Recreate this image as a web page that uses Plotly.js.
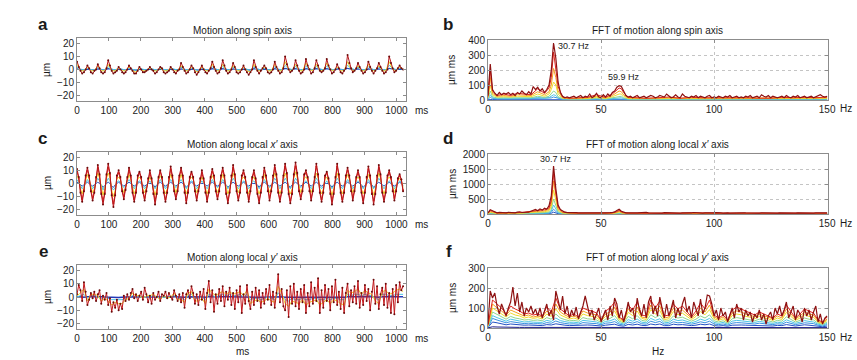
<!DOCTYPE html>
<html><head><meta charset="utf-8">
<script src="https://cdn.plot.ly/plotly-3.0.1.min.js"></script>
<style>html,body{margin:0;padding:0;background:#fff}#chart{width:857px;height:360px}</style>
</head><body><div id="chart"></div>
<script>
// ---------------- data ----------------
const sampleStepMs = 5.43;               // time between samples (full resolution)
const timeTicks = [0,100,200,300,400,500,600,700,800,900,1000];
const timeTickText = ["0","100","200","300","400","500","600","700","800","900","1000"];
const freqTicks = [0,50,100,150];
const freqTickText = ["0","50","100","150"];
const motionTicks = [-20,-10,0,10,20];
const fftSpinTicks = [0,100,200,300,400];
const fftXTicks = [0,500,1000,1500,2000];
const fftYTicks = [0,100,200,300];

// panel a : motion along spin axis (full res dark red, half res others)
const spinDarkRed = [
6,2,-1,-3,-2,0, 3,1,-2,-3,-1,0, 4,1,-2,-3,-2,1, 7,3,-1,-3,-2,-1, 2,0,-2,-3,-2,0,
3,1,-1,-3,-3,-1, 2,0,-2,-2,-1,0, 2,0,-1,-3,-2,0, 2,1,-2,-3,-2,-1, 2,0,-2,-3,-1,0,
5,2,-1,-3,-2,0, 3,1,-2,-4,-2,0, 3,0,-2,-3,-1,1, 6,2,-1,-3,-2,1, 7,3,-1,-3,-2,0,
5,2,-2,-3,-2,0, 3,0,-2,-4,-2,0, 7,2,-1,-3,-1,1, 3,1,-2,-3,-2,0, 6,2,-1,-3,-2,1,
10,4,0,-2,-1,1, 7,3,-1,-3,-2,0, 8,3,0,-3,-2,1, 7,3,-1,-2,-1,1, 8,3,0,-3,-2,0,
4,1,-2,-3,-1,1, 11,5,1,-2,-1,1, 5,2,-1,-3,-2,0, 6,2,-1,-3,-1,1, 5,2,-1,-3,-2,0,
10,5,1,-2,-1,1, 3,1,0];
const spinYellow = [
4,-1,-1, 2,-1,-1, 3,-1,-1, 4,-1,-1, 1,-1,-1, 2,-1,-2, 1,-1,-1, 1,-1,-1, 1,-1,-1, 1,-1,-1,
3,-1,-1, 2,-1,-2, 2,-1,-1, 4,-1,-1, 4,-1,-1, 3,-1,-1, 2,-1,-2, 4,-1,-1, 2,-1,-1, 4,-1,-1,
6,0,-1, 4,-1,-1, 5,0,-1, 4,-1,-1, 5,0,-1, 2,-1,-1, 6,0,-1, 3,-1,-1, 4,-1,-1, 3,-1,-1,
6,0,-1, 2,0];
const spinCyan = [
2,0.3,-0.3, 1,0,-0.5, 1.5,0,-0.5, 2,0.3,-0.3, 1,0,-0.5, 1,0,-0.6, 0.8,0,-0.4, 1,0,-0.5, 0.8,0,-0.5, 1,0,-0.4,
1.8,0.2,-0.4, 1,0,-0.6, 1.2,0,-0.4, 2,0.3,-0.3, 2.2,0.3,-0.4, 1.8,0.2,-0.4, 1,0,-0.6, 2,0.3,-0.3, 1,0,-0.5, 2,0.3,-0.3,
3,0.6,0, 2.2,0.3,-0.4, 2.4,0.5,-0.2, 2.2,0.4,-0.2, 2.4,0.5,-0.3, 1.2,0,-0.4, 3.2,0.8,0, 1.8,0.2,-0.4, 2,0.3,-0.3, 1.8,0.2,-0.4,
3.2,0.8,0, 1,0.2];
const spinBlue = [
0.5,0,-0.5, 0.3,0,-0.4, 0.4,-0.2,-0.5, 0.6,0,-0.5, 0.2,-0.3,-0.4, 0.3,0,-0.5, 0.2,-0.2,-0.3, 0.2,-0.1,-0.4, 0.2,-0.2,-0.4, 0.2,-0.1,-0.3,
0.5,0,-0.4, 0.3,-0.2,-0.5, 0.3,-0.1,-0.4, 0.6,0,-0.4, 0.6,0,-0.4, 0.5,-0.1,-0.4, 0.3,-0.2,-0.5, 0.6,0,-0.3, 0.3,-0.1,-0.4, 0.6,0,-0.4,
0.8,0.2,-0.2, 0.6,0,-0.4, 0.7,0.1,-0.3, 0.6,0,-0.3, 0.7,0.1,-0.4, 0.4,-0.1,-0.3, 0.9,0.2,-0.2, 0.5,0,-0.4, 0.5,0,-0.3, 0.5,0,-0.4,
0.9,0.2,-0.2, 0.3,0];

// panel c : motion along local x' axis
const xDarkRed = [
11,5,-7,-14,-6,6, 12,6,-6,-13,-7,5, 14,7,-8,-16,-8,7, 15,8,-9,-18,-9,6, 10,5,-6,-12,-5,5,
12,6,-7,-14,-7,6, 9,5,-7,-13,-6,4, 10,4,-8,-16,-8,5, 10,5,-7,-14,-7,5, 13,6,-6,-12,-6,6,
12,6,-7,-15,-7,5, 9,5,-6,-13,-6,4, 10,4,-7,-14,-7,5, 11,6,-6,-12,-6,6, 12,6,-8,-15,-7,6,
14,7,-6,-13,-7,6, 10,5,-7,-14,-6,5, 10,4,-8,-15,-7,5, 12,6,-6,-13,-6,6, 14,7,-7,-14,-7,6,
15,8,-8,-15,-8,7, 16,8,-6,-12,-6,7, 10,5,-6,-13,-6,5, 15,7,-7,-14,-7,6, 9,4,-8,-16,-8,5,
15,7,-7,-14,-7,6, 12,6,-6,-13,-6,5, 10,5,-7,-15,-7,5, 13,6,-8,-16,-8,6, 14,7,-7,-14,-7,6,
10,5,-6,-13,-6,4, 7,3,-6];
const xRed = [
9,4,-6,-12,-5,5, 10,5,-5,-11,-6,4, 12,6,-7,-13,-7,6, 12,7,-8,-15,-8,5, 8,4,-5,-10,-4,4,
10,5,-6,-12,-6,5, 8,4,-6,-11,-5,3, 8,3,-7,-13,-7,4, 9,4,-6,-12,-6,4, 11,5,-5,-10,-5,5,
10,5,-6,-13,-6,4, 8,4,-5,-11,-5,3, 8,3,-6,-12,-6,4, 9,5,-5,-10,-5,5, 10,5,-7,-13,-6,5,
12,6,-5,-11,-6,5, 8,4,-6,-12,-5,4, 8,3,-7,-13,-6,4, 10,5,-5,-11,-5,5, 12,6,-6,-12,-6,5,
13,7,-7,-13,-7,6, 13,7,-5,-10,-5,6, 8,4,-5,-11,-5,4, 13,6,-6,-12,-6,5, 8,3,-7,-13,-7,4,
13,6,-6,-12,-6,5, 10,5,-5,-11,-5,4, 8,4,-6,-13,-6,4, 11,5,-7,-13,-7,5, 12,6,-6,-12,-6,5,
8,4,-5,-11,-5,3, 6,3,-5];
const xYellow = [
6,3,-4,-8,-3,3, 7,3,-3,-7,-4,3, 8,4,-4,-9,-4,4, 8,4,-5,-10,-5,3, 5,3,-3,-7,-3,3,
7,3,-4,-8,-4,3, 5,3,-4,-7,-3,2, 5,2,-4,-9,-4,3, 6,3,-4,-8,-4,3, 7,3,-3,-7,-3,3,
7,3,-4,-8,-4,3, 5,3,-3,-7,-3,2, 5,2,-4,-8,-4,3, 6,3,-3,-7,-3,3, 7,3,-4,-8,-4,3,
8,4,-3,-7,-4,3, 5,3,-4,-8,-3,3, 5,2,-4,-8,-4,3, 7,3,-3,-7,-3,3, 8,4,-4,-8,-4,3,
8,4,-4,-8,-4,4, 9,4,-3,-7,-3,4, 5,3,-3,-7,-3,3, 8,4,-4,-8,-4,3, 5,2,-4,-9,-4,3,
8,4,-4,-8,-4,3, 7,3,-3,-7,-3,3, 5,3,-4,-8,-4,3, 7,3,-4,-9,-4,3, 8,4,-4,-8,-4,3,
5,3,-3,-7,-3,2, 4,2,-3];
const xCyan = [
3,1,-2,-4,-2,1, 3,1,-2,-4,-2,1, 4,2,-2,-5,-2,1, 4,2,-3,-5,-3,1, 2,1,-2,-3,-2,1,
3,1,-2,-4,-2,1, 2,1,-2,-4,-2,0, 2,0,-2,-4,-2,1, 3,1,-2,-4,-2,1, 3,1,-2,-3,-2,1,
3,1,-2,-4,-2,1, 2,1,-2,-4,-2,0, 2,0,-2,-4,-2,1, 3,1,-2,-3,-2,1, 3,1,-2,-4,-2,1,
4,2,-2,-4,-2,1, 2,1,-2,-4,-2,1, 2,0,-2,-4,-2,1, 3,1,-2,-3,-2,1, 4,2,-2,-4,-2,1,
4,2,-2,-4,-2,1, 4,2,-2,-3,-2,1, 2,1,-2,-4,-2,1, 4,2,-2,-4,-2,1, 2,0,-2,-4,-2,1,
4,2,-2,-4,-2,1, 3,1,-2,-4,-2,1, 2,1,-2,-4,-2,1, 3,1,-2,-4,-2,1, 4,2,-2,-4,-2,1,
2,1,-2,-4,-2,0, 2,1,-2];
const xBlue = [
1,0,-1,-2,-1,0, 1,0,-1,-2,-1,0, 1,0,-1,-3,-1,0, 1,0,-2,-3,-1,0, 1,0,-1,-2,-1,0,
1,0,-1,-2,-1,0, 1,0,-1,-2,-1,0, 0,0,-1,-3,-1,0, 1,0,-1,-2,-1,0, 1,0,-1,-2,-1,0,
1,0,-1,-3,-1,0, 1,0,-1,-2,-1,0, 0,0,-1,-2,-1,0, 1,0,-1,-2,-1,0, 1,0,-1,-3,-1,0,
1,0,-1,-2,-1,0, 1,0,-1,-2,-1,0, 0,0,-1,-3,-1,0, 1,0,-1,-2,-1,0, 1,0,-1,-2,-1,0,
1,0,-2,-3,-1,0, 1,0,-1,-2,-1,0, 1,0,-1,-2,-1,0, 1,0,-1,-2,-1,0, 0,0,-1,-3,-1,0,
1,0,-1,-2,-1,0, 1,0,-1,-2,-1,0, 1,0,-1,-3,-1,0, 1,0,-1,-3,-1,0, 1,0,-1,-2,-1,0,
1,0,-1,-2,-1,0, 1,0,-1];

// panel e : motion along local y' axis
const yDarkRed = [
2,9,5,-3,11,4,-6,-2,3,-1, 4,-3,2,5,-5,1,-2,3,-6,-1, -11,-4,-8,-2,-10,-5,-9,1,-3,2,
-2,3,6,-1,2,-3,1,4,-2,7, 2,-4,1,-5,3,-2,0,4,-3,2, 1,4,-1,3,0,-2,5,1,-3,2,
-4,3,-8,2,5,-1,8,3,-5,2, -6,4,-2,6,-9,3,12,-4,5,-11, 2,-5,6,-3,8,-7,4,-2,7,-6,
3,-9,5,-4,8,-12,2,-5,9,-3, -9,4,-6,7,-3,5,-8,3,-5,6, -2,9,-6,4,-8,3,17,-4,6,-7,
-10,5,-15,8,-5,10,-7,4,-9,6, -4,9,-12,3,-7,11,-5,7,-3,14, -12,5,-8,9,-3,6,-10,8,-4,13,
-6,4,-9,7,-12,3,10,-7,5,-4, 8,-5,12,-8,3,-6,9,-3,6,-10, 4,13,-5,8,-9,2,7,-6,10,-8,
3,-12,6,-13,9,-4,11,5,8];
const yYellow = [
1,3,6,-3,2, 2,1,-3,-1,-3, -6,-4,-5,-5,-2, -1,3,1,1,-1, 1,1,2,0,-2, 1,-1,0,3,-2, -2,-4,3,4,-3,
-3,-1,-5,6,3, 1,3,4,2,4, 2,3,4,1,5, -5,-3,-2,-4,-3, -1,-3,-4,8,3, -5,-7,-3,-4,-5, -2,-6,-4,-3,-2,
-6,-4,-2,-5,-2, -3,-5,-6,5,3, 4,6,2,5,3, 2,-3,-5,4,5, 2,3,5,6,4];
const yCyan = [
0,1,2,-1,1, 1,0,-1,0,-1, -2,-2,-2,-2,-1, 0,1,0,0,0, 0,0,1,0,-1, 0,0,0,1,-1, -1,-2,1,2,-1,
-1,0,-2,2,1, 0,1,2,1,2, 1,1,2,0,2, -2,-1,-1,-2,-1, 0,-1,-2,3,1, -2,-3,-1,-2,-2, -1,-2,-2,-1,-1,
-2,-2,-1,-2,-1, -1,-2,-2,2,1, 2,2,1,2,1, 1,-1,-2,2,2, 1,1,2,2,2];
const yBlue = [
0.3,0,-0.2,0.1,0.2, 0,-0.1,0.2,0,-0.2, -0.3,-0.2,-0.3,-0.2,0, 0,0.2,0,0.1,0, 0,0.1,0,0,-0.1, 0,0,0.1,0.2,-0.1, -0.1,-0.2,0.1,0.2,-0.1,
-0.1,0,-0.2,0.3,0.1, 0,0.1,0.2,0.1,0.2, 0.1,0.1,0.2,0,0.2, -0.2,-0.1,-0.1,-0.2,-0.1, 0,-0.1,-0.2,0.3,0.1, -0.2,-0.3,-0.1,-0.2,-0.2, -0.1,-0.2,-0.2,-0.1,-0.1,
-0.2,-0.2,-0.1,-0.2,-0.1, -0.1,-0.2,-0.2,0.2,0.1, 0.2,0.2,0.1,0.2,0.1, 0.1,-0.1,-0.2,0.2,0.2, 0.1,0.1,0.2,0.2,0.2];

// FFT panels: dark red at 1 Hz resolution, others at coarse frequencies
const fftCoarseHz = [0,1,2,4,7,10,13,16,19,22,25,27,28,29,30,31,33,36,40,44,48,52,55,57,58,59,60,62,65,70,75,80,85,90,95,100,105,110,115,120,125,130,135,140,145,150];

const fftSpinDarkRed = [
30,240,70,45,30,50,35,45,40,50, 35,45,30,50,40,60,45,35,55,40, 90,70,85,60,75,50,70,100,200,380,
280,120,50,25,15,20,15,20,25,15, 20,30,15,25,20,40,15,25,45,20, 15,35,20,40,25,50,60,85,95,90,
60,30,20,25,15,20,30,15,20,25, 15,20,30,25,15,20,30,25,20,40, 25,15,20,35,20,15,40,25,20,15,
25,20,30,15,25,20,15,25,30,15, 20,15,25,20,15,25,20,30,15,20, 25,15,20,15,25,20,30,15,20,25,
15,35,25,20,30,15,25,20,15,20, 25,15,30,20,15,25,20,30,15,20, 25,15,20,25,15,20,30,35,25,20, 25];
const fftSpinRed = [25,200,60,30,40,30,45,40,35,75, 45,80,150,320,220,90,20,12,15,18, 35,18,40,70,80,75,50,18,15,12, 15,20,12,18,15,15,18,18,15,12, 12,18,15,18,15,20];
const fftSpinOrange = [20,150,45,25,30,25,35,30,30,55, 35,55,100,210,150,60,15,10,12,14, 25,14,30,50,60,55,35,14,12,10, 12,15,10,14,12,12,14,14,12,10, 10,14,12,14,12,15];
const fftSpinYellow = [15,100,35,20,22,20,25,22,22,40, 25,40,70,120,100,40,12,8,10,10, 18,10,22,35,40,40,25,10,9,8, 9,11,8,10,9,9,10,10,9,8, 8,10,9,10,9,11];
const fftSpinGreen = [10,60,22,14,15,14,17,15,15,25, 17,25,40,60,50,22,9,6,7,7, 12,7,14,22,25,25,15,7,6,6, 6,8,6,7,6,6,7,7,6,6, 6,7,6,7,6,8];
const fftSpinCyan = [8,35,15,10,11,10,12,11,11,16, 12,16,25,35,30,14,7,5,5,5, 8,5,9,13,15,15,10,5,5,4, 5,6,4,5,5,5,5,5,5,4, 4,5,5,5,5,6];
const fftSpinLightBlue = [5,18,9,7,7,7,8,7,7,10, 8,10,14,20,17,9,5,3,4,4, 5,4,6,8,9,9,6,4,3,3, 3,4,3,4,3,3,4,4,3,3, 3,4,3,4,3,4];
const fftSpinBlue = [2,5,3,2,2,2,3,2,2,3, 3,3,4,5,5,3,2,1,1,1, 2,1,2,2,3,3,2,1,1,1, 1,1,1,1,1,1,1,1,1,1, 1,1,1,1,1,1];

const fftXDarkRed = [
40,140,110,60,40,55,45,50,40,55, 45,50,40,60,75,50,45,55,60,90, 120,150,110,170,130,190,160,280,600,1600,
850,300,150,90,60,45,50,40,35,45, 40,30,45,35,40,30,45,35,40,30, 45,35,40,30,45,50,70,120,160,90,
60,40,35,45,30,40,35,45,30,40, 55,40,35,45,30,40,35,30,45,40, 55,35,30,40,35,30,40,35,30,45,
35,50,40,30,35,30,40,35,30,40, 35,45,30,35,30,40,35,30,35,30, 40,35,30,40,35,30,35,40,30,35,
30,40,35,30,35,40,30,35,30,40, 35,30,35,40,30,35,30,40,35,30, 35,40,30,35,30,40,35,30,35,40, 35];
const fftXRed = [30,110,90,35,40,35,45,60,100,120, 140,200,450,1350,700,220,70,40,30,30, 30,30,35,80,120,70,45,30,28,40, 30,40,25,40,30,30,28,30,25,28, 28,28,30,28,28,28];
const fftXOrange = [22,80,65,28,30,28,35,45,75,90, 105,150,350,1100,550,170,50,30,22,22, 22,22,26,60,90,50,32,22,20,28, 22,28,18,28,22,22,20,22,18,20, 20,20,22,20,20,20];
const fftXYellow = [16,55,45,20,22,20,25,32,55,65, 75,110,250,800,400,120,35,22,16,16, 16,16,18,42,65,36,24,16,15,20, 16,20,13,20,16,16,15,16,13,15, 15,15,16,15,15,15];
const fftXGreen = [10,35,28,13,14,13,16,20,35,40, 48,70,160,500,260,75,22,14,10,10, 10,10,12,26,40,22,15,10,9,12, 10,12,8,12,10,10,9,10,8,9, 9,9,10,9,9,9];
const fftXCyan = [7,20,16,8,9,8,10,12,20,24, 28,40,95,300,150,45,13,9,6,6, 6,6,7,15,24,13,9,6,5,7, 6,7,5,7,6,6,5,6,5,5, 5,5,6,5,5,5];
const fftXLightBlue = [5,12,10,5,6,5,6,8,12,14, 16,24,55,160,85,26,8,5,4,4, 4,4,4,9,14,8,5,4,3,4, 4,4,3,4,4,4,3,4,3,3, 3,3,4,3,3,3];
const fftXBlue = [3,6,5,3,3,3,3,4,6,7, 8,12,25,60,35,12,4,3,2,2, 2,2,2,4,6,4,3,2,2,2, 2,2,2,2,2,2,2,2,2,2, 2,2,2,2,2,2];

const fftYDarkRed = [
20,185,150,175,110,70,120,90,60,100, 130,205,110,175,80,130,60,100,80,110, 70,95,60,100,50,85,120,60,90,40,
185,140,90,160,70,110,50,90,60,105, 45,80,110,160,100,60,90,40,70,100, 30,60,90,40,110,60,150,120,50,90,
30,70,130,80,100,40,150,90,60,120, 50,130,160,70,110,60,155,100,50,120, 60,95,140,50,100,60,120,155,80,110,
50,130,90,60,145,70,100,165,160,120, 60,90,40,100,60,80,30,70,100,50, 120,80,100,40,90,60,80,30,70,50,
90,40,70,20,60,80,40,100,70,110, 60,90,130,50,80,110,40,90,70,30, 100,60,90,40,80,110,30,70,20,50, 60];
// 2 Hz resolution (0,2,...,150)
const fftYRed = [15,140,120,100,70,110,95,85,70,75, 65,70,60,105,80,150,95,75,60,70, 55,100,90,85,75,40,85,100,130,55,
40,115,90,130,65,60,140,100,135,60, 65,120,95,110,80,55,85,125,95,140, 65,50,65,40,90,105,95,85,75,65,
80,70,60,50,70,60,115,80,50,70, 95,85,75,40,30,55];
const fftYOrange = [12,120,100,85,65,90,80,70,60,65, 55,60,55,85,70,120,80,65,55,60, 50,85,75,70,65,40,70,80,105,50,
35,95,75,105,55,50,115,85,110,50, 55,100,80,90,70,50,70,100,80,115, 55,45,55,35,75,85,80,70,65,55,
70,60,55,45,60,50,95,70,45,60, 80,70,65,35,25,45];
const fftYYellow = [10,100,85,70,55,75,65,60,50,55, 48,52,45,70,58,95,65,55,45,50, 42,70,62,58,52,35,58,65,85,42,
30,78,62,85,48,42,92,70,88,42, 46,82,66,74,58,42,58,82,66,92, 46,38,46,30,62,70,66,58,54,46,
58,50,46,38,50,42,78,58,38,50, 66,58,54,30,22,38];
const fftYGreen = [8,80,68,55,44,58,50,46,40,42, 38,40,36,52,44,70,50,42,36,38, 34,52,46,44,40,28,44,48,62,34,
25,58,46,62,38,34,66,52,64,34, 36,60,50,54,44,34,44,60,50,66, 36,30,36,24,46,52,48,44,40,36,
44,38,36,30,38,34,56,44,30,38, 50,44,40,24,18,30];
const fftYCyan = [6,62,52,42,34,44,38,35,30,32, 29,30,28,38,33,50,37,32,28,29, 26,38,34,33,30,22,33,36,45,26,
20,42,34,45,29,26,48,38,46,26, 28,44,37,40,33,26,33,44,37,48, 28,23,28,19,34,38,36,33,30,28,
33,29,28,23,29,26,41,33,23,29, 37,33,30,19,14,23];
const fftYLightBlue = [4,48,40,32,26,32,28,26,22,24, 21,22,20,27,24,35,27,23,20,21, 19,27,24,23,22,16,24,26,32,19,
15,30,24,32,21,19,34,27,33,19, 20,31,26,28,24,19,24,31,26,34, 20,17,20,14,24,27,26,24,22,20,
24,21,20,17,21,19,29,24,17,21, 26,24,22,14,10,17];
const fftYBlue = [3,30,26,20,16,20,17,16,14,15, 13,14,12,17,15,21,16,14,12,13, 12,16,15,14,13,10,14,16,19,12,
9,18,15,19,13,12,20,16,20,12, 12,19,16,17,14,12,14,19,16,20, 12,10,12,9,14,16,15,14,13,12,
14,13,12,10,13,12,17,14,10,13, 16,14,13,9,6,10];
const fftYDarkBlue = [1,6,5,4,3,4,3,3,3,3, 3,3,2,3,3,4,3,3,2,3, 2,3,3,3,3,2,3,3,4,2,
2,3,3,4,3,2,4,3,4,2, 2,3,3,3,3,2,3,3,3,4, 2,2,2,2,3,3,3,3,3,2,
3,3,2,2,3,2,3,3,2,3, 3,3,3,2,1,2];

// ---------------- drawing ----------------
const C = {darkblue:'#1c1c8a', blue:'#2352c4', lightblue:'#3b92e0', cyan:'#4ec6e6', green:'#90d68c',
           yellow:'#f0dc2a', orange:'#f6a020', red:'#e2261e', darkred:'#8e1212'};
const W = 857, H = 360;
const fx = p => p / W, fy = p => 1 - p / H;

function timeAxis(n, stride) { return Array.from({length: n}, (_, k) => k * stride * sampleStepMs); }
function hzAxis(n, step) { return Array.from({length: n}, (_, k) => k * step); }

function line(x, y, ax, color, width, marker) {
  const t = {type:'scatter', x:x, y:y, xaxis:'x'+ax, yaxis:'y'+ax, mode: marker ? 'lines+markers' : 'lines',
    line:{color:color, width:width}, hoverinfo:'skip'};
  if (marker) t.marker = {size: marker.size, color: marker.color};
  return t;
}

const traces = [];
// a
traces.push(line(timeAxis(spinBlue.length,2), spinBlue, '', C.blue, 1.2));
traces.push(line(timeAxis(spinCyan.length,2), spinCyan, '', C.cyan, 1));
traces.push(line(timeAxis(spinYellow.length,2), spinYellow, '', C.yellow, 1));
traces.push(line(timeAxis(spinDarkRed.length,1), spinDarkRed, '', '#b5161b', 1, {size:2, color:'#6a0a0a'}));
// c
traces.push(line(timeAxis(xBlue.length,1), xBlue, '3', C.blue, 1));
traces.push(line(timeAxis(xCyan.length,1), xCyan, '3', C.cyan, 1));
traces.push(line(timeAxis(xYellow.length,1), xYellow, '3', C.yellow, 1));
traces.push(line(timeAxis(xRed.length,1), xRed, '3', C.red, 1, {size:1.8, color:C.red}));
traces.push(line(timeAxis(xDarkRed.length,1), xDarkRed, '3', '#b5161b', 1, {size:2, color:'#6a0a0a'}));
// e
traces.push(line(timeAxis(yBlue.length,2), yBlue, '5', '#2238b8', 1.5));
traces.push(line(timeAxis(yCyan.length,2), yCyan, '5', C.cyan, 1));
traces.push(line(timeAxis(yYellow.length,2), yYellow, '5', C.yellow, 1));
traces.push(line(timeAxis(yDarkRed.length,1), yDarkRed, '5', '#c0181c', 1, {size:2, color:'#6a0a0a'}));
// b
[[fftSpinBlue,C.blue],[fftSpinLightBlue,C.lightblue],[fftSpinCyan,C.cyan],[fftSpinGreen,C.green],
 [fftSpinYellow,C.yellow],[fftSpinOrange,C.orange],[fftSpinRed,C.red]].forEach(([v,c]) =>
  traces.push(line(fftCoarseHz, v, '2', c, 1)));
traces.push(line(hzAxis(fftSpinDarkRed.length,1), fftSpinDarkRed, '2', C.darkred, 1.2));
// d
[[fftXBlue,C.blue],[fftXLightBlue,C.lightblue],[fftXCyan,C.cyan],[fftXGreen,C.green],
 [fftXYellow,C.yellow],[fftXOrange,C.orange],[fftXRed,C.red]].forEach(([v,c]) =>
  traces.push(line(fftCoarseHz, v, '4', c, 1)));
traces.push(line(hzAxis(fftXDarkRed.length,1), fftXDarkRed, '4', C.darkred, 1.2));
// f
[[fftYDarkBlue,C.darkblue],[fftYBlue,C.blue],[fftYLightBlue,C.lightblue],[fftYCyan,C.cyan],[fftYGreen,C.green],
 [fftYYellow,C.yellow],[fftYOrange,C.orange],[fftYRed,C.red]].forEach(([v,c]) =>
  traces.push(line(hzAxis(v.length,2), v, '6', c, 1)));
traces.push(line(hzAxis(fftYDarkRed.length,1), fftYDarkRed, '6', C.darkred, 1.2));

const FONT = '"Liberation Sans", Arial, Helvetica, sans-serif';
const base = {showline:true, linecolor:'#8c8c8c', linewidth:1, mirror:'ticks', ticks:'inside', ticklen:3,
  tickcolor:'#8c8c8c', zeroline:false, showgrid:false, fixedrange:true,
  tickfont:{family:FONT, size:10, color:'#222'}, tickmode:'array'};
const grid = {showgrid:true, gridcolor:'#c4c4c4', griddash:'dot', gridwidth:1};

const L = [fx(77), fx(406)], R = [fx(488), fx(828)];
function tx(dom, anchor) { return Object.assign({}, base, {domain:dom, anchor:anchor, range:[0,1030], tickvals:timeTicks, ticktext:timeTickText}); }
function fxAx(dom, anchor) { return Object.assign({}, base, grid, {domain:dom, anchor:anchor, range:[0,150.4], tickvals:freqTicks, ticktext:freqTickText}); }
function my(top, bot, anchor) { return Object.assign({}, base, {domain:[fy(bot), fy(top)], anchor:anchor, range:[-24,24], tickvals:motionTicks}); }
function fyAx(top, bot, anchor, maxv, tv) { return Object.assign({}, base, grid, {domain:[fy(bot), fy(top)], anchor:anchor, range:[0,maxv], tickvals:tv}); }

function ann(text, px, py, size, extra) {
  return Object.assign({text:text, x:fx(px), y:fy(py), xref:'paper', yref:'paper', showarrow:false,
    xanchor:'center', yanchor:'middle', font:{family:FONT, size:size, color:'#1a1a1a'}}, extra || {});
}

const annotations = [
  ann('<b>a</b>', 42.5, 25, 17), ann('<b>b</b>', 448, 25, 17), ann('<b>c</b>', 42.5, 138, 17),
  ann('<b>d</b>', 448, 138, 17), ann('<b>e</b>', 43, 252, 17), ann('<b>f</b>', 449, 252, 17),
  ann('Motion along spin axis', 242, 30, 10), ann('FFT of motion along spin axis', 657, 30, 10),
  ann('Motion along local <i>x′</i> axis', 242, 144, 10), ann('FFT of motion along local <i>x′</i> axis', 657, 144, 10),
  ann('Motion along local <i>y′</i> axis', 242, 257, 10), ann('FFT of motion along local <i>y′</i> axis', 657, 257, 10),
  ann('µm', 47, 70, 10, {textangle:-90}), ann('µm', 47, 183, 10, {textangle:-90}), ann('µm', 47, 297, 10, {textangle:-90}),
  ann('µm ms', 452, 70, 10, {textangle:-90}), ann('µm ms', 452, 184, 10, {textangle:-90}), ann('µm ms', 452, 298, 10, {textangle:-90}),
  ann('ms', 421, 110, 10), ann('ms', 421, 224, 10), ann('ms', 421, 338, 10),
  ann('Hz', 846, 108, 10), ann('Hz', 846, 223, 10), ann('Hz', 846, 337, 10),
  ann('ms', 242, 351, 10), ann('Hz', 658, 351, 10),
  ann('30.7 Hz', 574, 46, 9), ann('59.9 Hz', 624, 77, 9), ann('30.7 Hz', 556, 159, 9)
];

const layout = {
  width:W, height:H, margin:{l:0,r:0,t:0,b:0}, paper_bgcolor:'#fff', plot_bgcolor:'#fff',
  showlegend:false, hovermode:false, font:{family:FONT, size:10, color:'#222'},
  xaxis: tx(L, 'y'), yaxis: my(38, 101, 'x'),
  xaxis2: fxAx(R, 'y2'), yaxis2: fyAx(40, 100, 'x2', 400, fftSpinTicks),
  xaxis3: tx(L, 'y3'), yaxis3: my(152, 215, 'x3'),
  xaxis4: fxAx(R, 'y4'), yaxis4: fyAx(154, 214, 'x4', 2000, fftXTicks),
  xaxis5: tx(L, 'y5'), yaxis5: my(265, 329, 'x5'),
  xaxis6: fxAx(R, 'y6'), yaxis6: fyAx(268, 328, 'x6', 300, fftYTicks),
  annotations: annotations
};

Plotly.newPlot('chart', traces, layout, {staticPlot:true, displayModeBar:false});
</script>
</body></html>
